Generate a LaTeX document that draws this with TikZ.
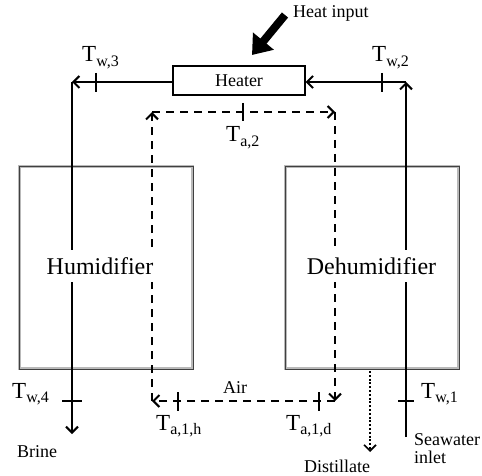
\documentclass[tikz,border=0pt]{standalone}
\usepackage{fontspec}
\setmainfont{Liberation Serif}
\usetikzlibrary{arrows.meta}
\newcommand{\TL}[1]{{\fontsize{23}{23}\selectfont T}\raisebox{-4.5pt}{\fontsize{16}{16}\selectfont #1}}
\begin{document}
\begin{tikzpicture}[x=1pt,y=-1pt,
  tipstyle/.style={-{Straight Barb[length=6pt,width=12pt]}},
  water/.style={line width=2pt,tipstyle},
  air/.style={line width=2pt,dash pattern=on 8pt off 6pt,tipstyle},
  tickmark/.style={line width=2.6pt},
  lab/.style={inner sep=0pt,anchor=base west},
  txt/.style={inner sep=0pt,font=\fontsize{18}{18}\selectfont},
  unit/.style={draw=gray!55,line width=2.4pt,minimum width=173pt,minimum height=202pt,inner sep=0pt},
  unitline/.style={draw=black!75,line width=0.7pt},
  unitlabel/.style={fill=white,inner xsep=1pt,inner ysep=7pt,font=\fontsize{24}{24}\selectfont}]
\useasboundingbox (0,0) rectangle (482,476);
% units
\node[unit] (hum) at (106,267.5) {};
\draw[unitline] ([shift={(0.6pt,-0.6pt)}]hum.north west) rectangle ([shift={(-0.6pt,0.6pt)}]hum.south east);
\node[unit] (dehum) at (372,267.5) {};
\draw[unitline] ([shift={(0.6pt,-0.6pt)}]dehum.north west) rectangle ([shift={(-0.6pt,0.6pt)}]dehum.south east);
% heater
\node[draw,line width=1.3pt,minimum width=132pt,minimum height=29pt,inner sep=0pt,font=\fontsize{18}{18}\selectfont] (heater) at (239,80.5) {Heater};
% water loop
\coordinate (wTL) at (72,82);
\coordinate (wTR) at (406,82);
\coordinate (wBL) at (72,434);
\coordinate (wBR) at (406,437);
\draw[water] (wBR) -- (wTR);
\draw[water] (wTR) -- (wTR -| heater.east);
\draw[water] (wTL -| heater.west) -- (wTL);
\draw[water] (wTL) -- (wBL);
% air loop
\coordinate (aBL) at (152,401);
\coordinate (aTL) at (152,112);
\coordinate (aTR) at (335,112);
\coordinate (aBR) at (335,401);
\draw[air] (aBL) -- (aTL);
\draw[air] (aTL) -- (aTR);
\draw[air] (aTR) -- (aBR);
\draw[air] (aBR) -- (aBL);
% distillate
\coordinate (dS) at (370,371);
\coordinate (dE) at (370,452);
\draw[line width=1.6pt,dash pattern=on 2pt off 1.8pt,tipstyle] (dS) -- (dE);
% heat input
\coordinate (hS) at (285,15);
\coordinate (hE) at (252,55);
\draw[line width=8pt,-{Triangle[length=18pt,width=26pt]}] (hS) -- (hE);
% unit labels
\node[unitlabel] (humtxt) at (100,266) {Humidifier};
\node[unitlabel] (dehumtxt) at (371.5,266) {Dehumidifier};
% ticks
\draw[tickmark] (96,73) -- (96,92);
\draw[tickmark] (382,73) -- (382,92);
\draw[tickmark] (243,103) -- (243,121);
\draw[tickmark] (178,392) -- (178,411);
\draw[tickmark] (319,392) -- (319,411);
\draw[tickmark] (62,401) -- (82,401);
\draw[tickmark] (398,401) -- (414,401);
% temperature labels
\node[lab] (tw3) at (82,62) {\TL{w,3}};
\node[lab] (tw2) at (372,62) {\TL{w,2}};
\node[lab] (ta2) at (226,142) {\TL{a,2}};
\node[lab] (tw4) at (12,398) {\TL{w,4}};
\node[lab] (tw1) at (421,398) {\TL{w,1}};
\node[lab] (ta1h) at (156,430) {\TL{a,1,h}};
\node[lab] (ta1d) at (286,430) {\TL{a,1,d}};
% other labels
\node[txt,anchor=base west] (heatin) at (293,18) {Heat input};
\node[txt,anchor=base west] (air) at (223,393) {Air};
\node[txt,anchor=base west] (brine) at (17,457) {Brine};
\node[txt,anchor=base west] (dist) at (304,472) {Distillate};
\node[txt,anchor=base west] (sea) at (414,445) {Seawater};
\node[txt,anchor=base west] (inlet) at (414,463) {inlet};
\end{tikzpicture}
\end{document}
